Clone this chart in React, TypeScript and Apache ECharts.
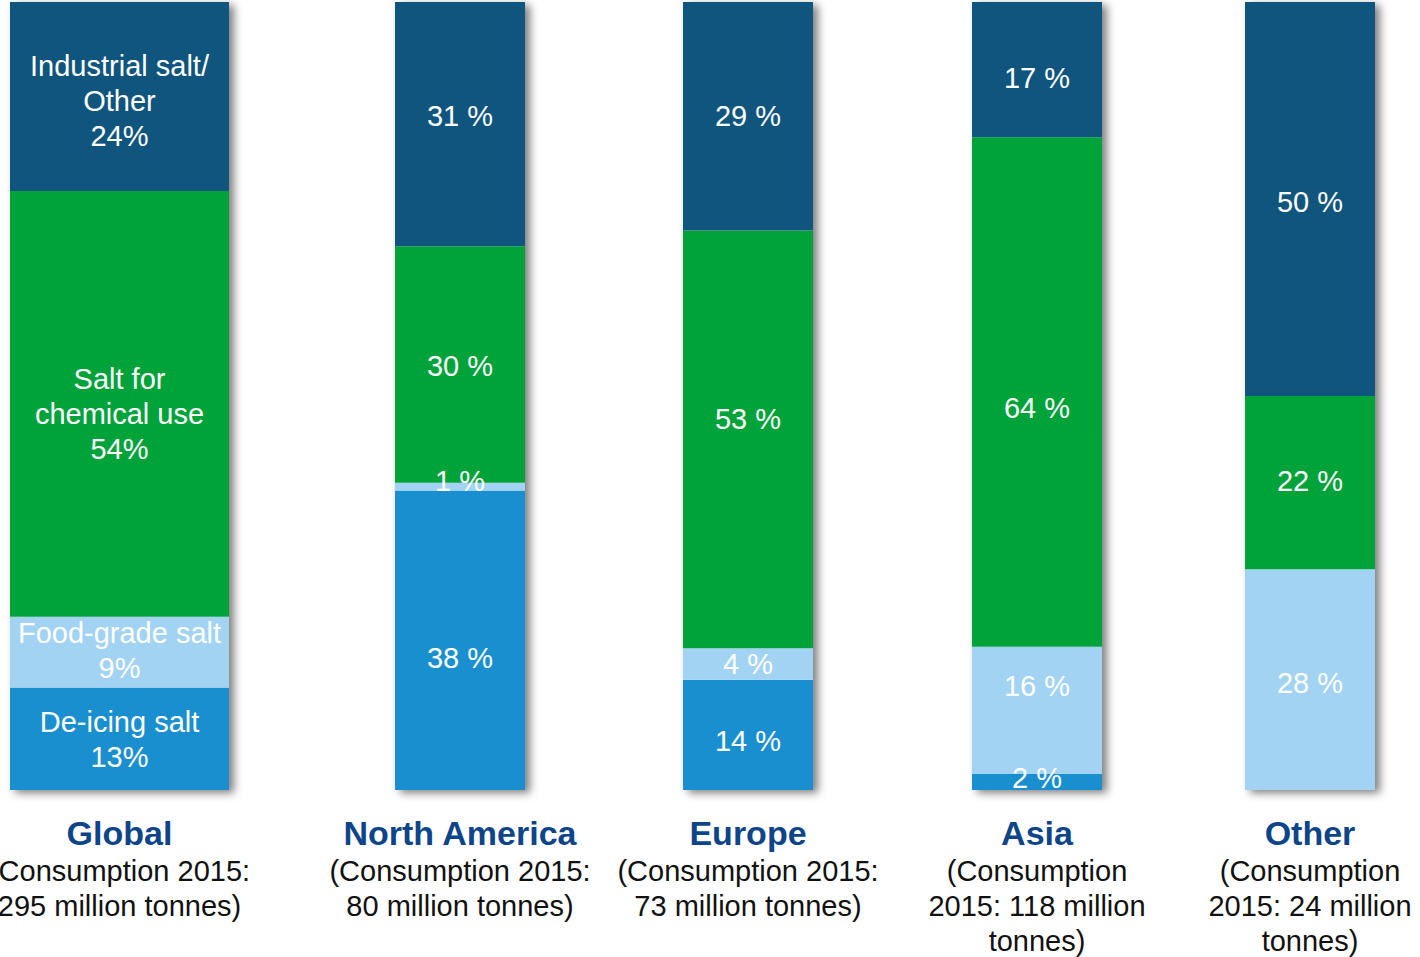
import React, { useEffect, useRef } from 'react';
import * as echarts from 'echarts';

const regions = ['Global', 'North America', 'Europe', 'Asia', 'Other'];
const subtitles = [
  ['(Consumption 2015:', '295 million tonnes)'],
  ['(Consumption 2015:', '80 million tonnes)'],
  ['(Consumption 2015:', '73 million tonnes)'],
  ['(Consumption', '2015: 118 million', 'tonnes)'],
  ['(Consumption', '2015: 24 million', 'tonnes)'],
];
const segmentNames = ['De-icing salt', 'Food-grade salt', 'Salt for\nchemical use', 'Industrial salt/\nOther'];
const deIcing = [13, 38, 14, 2, 0];
const foodGrade = [9, 1, 4, 16, 28];
const chemical = [54, 30, 53, 64, 22];
const industrial = [24, 31, 29, 17, 50];

// layout only: bar positions and small vertical nudges of the in-bar labels
const segmentColors = ['#1a8fd0', '#a2d3f3', '#00a23a', '#10557d'];
const barLeft = [10, 395, 683, 972, 1245];
const barWidthPx = [219, 130, 130, 130, 130];
const labelNudge = [
  [1, -2, 10, 4],
  [18, -6, 2, -8],
  [6, 0, -20, 0],
  [-4, -24, 16, 8],
  [0, 3, -2, 3],
];
const FONT = '"Liberation Sans", Arial, sans-serif';

export default function App() {
  const ref = useRef<HTMLDivElement>(null);
  useEffect(() => {
    if (!ref.current) return;
    const chart = echarts.init(ref.current, null, { renderer: 'svg' });
    const segments = [deIcing, foodGrade, chemical, industrial];
    const grids: any[] = [];
    const xAxes: any[] = [];
    const yAxes: any[] = [];
    const series: any[] = [];
    regions.forEach((region, i) => {
      const total = segments.reduce((s, arr) => s + arr[i], 0);
      grids.push({
        left: barLeft[i],
        width: barWidthPx[i],
        top: 2,
        height: 788,
        containLabel: false,
        outerBoundsMode: 'none',
      });
      xAxes.push({
        type: 'category',
        gridIndex: i,
        data: [region],
        axisLine: { show: false },
        axisTick: { show: false },
        axisLabel: {
          interval: 0,
          margin: 22,
          hideOverlap: false,
          formatter: () =>
            `{t|${region}}\n` + subtitles[i].map((l) => `{s|${l}}`).join('\n'),
          rich: {
            t: { fontFamily: FONT, fontSize: 34, fontWeight: 'bold', color: '#0e4589', lineHeight: 41, align: 'center' },
            s: { fontFamily: FONT, fontSize: 29, color: '#111111', lineHeight: 35, align: 'center' },
          },
        },
      });
      yAxes.push({ type: 'value', gridIndex: i, min: 0, max: total, show: false, splitLine: { show: false } });
      series.push({
        type: 'bar',
        xAxisIndex: i,
        yAxisIndex: i,
        data: [total],
        barWidth: barWidthPx[i],
        barGap: '-100%',
        silent: true,
        z: 1,
        itemStyle: {
          color: '#ffffff',
          shadowColor: 'rgba(0,0,0,0.5)',
          shadowBlur: 8,
          shadowOffsetX: 5,
          shadowOffsetY: 3,
        },
        label: { show: false },
      });
      segments.forEach((arr, k) => {
        series.push({
          type: 'bar',
          name: segmentNames[k],
          xAxisIndex: i,
          yAxisIndex: i,
          stack: 'col' + i,
          data: [arr[i]],
          barWidth: barWidthPx[i],
          barGap: '-100%',
          z: 2,
          itemStyle: { color: segmentColors[k] },
          label: {
            show: arr[i] > 0,
            position: 'inside',
            offset: [0, labelNudge[i][k]],
            color: '#ffffff',
            fontFamily: FONT,
            fontSize: 29,
            lineHeight: 35,
            align: 'center',
            formatter: () => (i === 0 ? `${segmentNames[k]}\n${arr[i]}%` : `${arr[i]} %`),
          },
        });
      });
    });
    chart.setOption({
      animation: false,
      backgroundColor: '#ffffff',
      grid: grids,
      xAxis: xAxes,
      yAxis: yAxes,
      series,
    });
    return () => chart.dispose();
  }, []);
  return (
    <div
      ref={ref}
      style={{ position: 'absolute', left: 0, top: 0, width: 1420, height: 957 }}
    />
  );
}
